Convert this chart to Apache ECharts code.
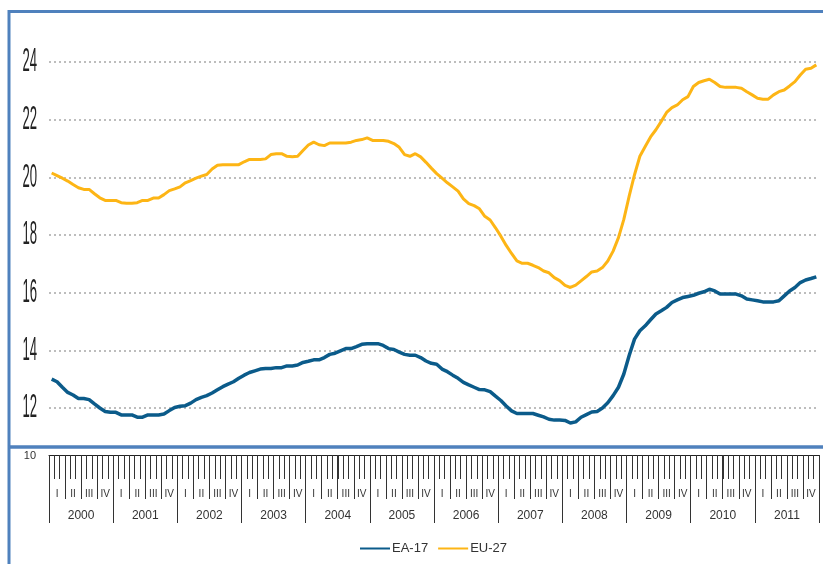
<!DOCTYPE html>
<html>
<head>
<meta charset="utf-8">
<script src="https://cdn.jsdelivr.net/npm/echarts@6/dist/echarts.min.js"></script>
<style>
  html, body { margin: 0; padding: 0; background: #fff; }
  #chart { width: 823px; height: 564px; }
</style>
</head>
<body>
<div id="chart"></div>
<script>
// data, monthly 2000-01 .. 2011-12
const years = ['2000', '2001', '2002', '2003', '2004', '2005', '2006', '2007', '2008', '2009', '2010', '2011'];
const quarters = ['I', 'II', 'III', 'IV'];
const yTicks = [12, 14, 16, 18, 20, 22, 24];

const ea17 = [
  13.00, 12.91, 12.72, 12.54, 12.45, 12.33, 12.33, 12.29, 12.14, 12.00, 11.88, 11.85,
  11.85, 11.76, 11.76, 11.76, 11.68, 11.68, 11.76, 11.76, 11.76, 11.79, 11.91, 12.02,
  12.06, 12.08, 12.17, 12.29, 12.37, 12.43, 12.52, 12.63, 12.74, 12.83, 12.91, 13.03,
  13.14, 13.23, 13.29, 13.35, 13.37, 13.37, 13.40, 13.40, 13.46, 13.46, 13.49, 13.58,
  13.62, 13.67, 13.67, 13.75, 13.86, 13.90, 13.98, 14.06, 14.06, 14.13, 14.21, 14.23,
  14.23, 14.23, 14.17, 14.06, 14.03, 13.94, 13.86, 13.83, 13.83, 13.75, 13.63, 13.55,
  13.52, 13.35, 13.26, 13.14, 13.03, 12.89, 12.80, 12.72, 12.64, 12.63, 12.57, 12.41,
  12.26, 12.07, 11.90, 11.81, 11.81, 11.81, 11.81, 11.75, 11.69, 11.61, 11.58, 11.58,
  11.57, 11.48, 11.52, 11.68, 11.77, 11.86, 11.88, 12.00, 12.18, 12.43, 12.72, 13.18,
  13.82, 14.39, 14.68, 14.85, 15.06, 15.26, 15.37, 15.49, 15.66, 15.75, 15.83, 15.87,
  15.91, 15.98, 16.03, 16.12, 16.06, 15.95, 15.95, 15.95, 15.95, 15.89, 15.78, 15.75,
  15.72, 15.68, 15.68, 15.68, 15.72, 15.89, 16.06, 16.18, 16.35, 16.44, 16.49, 16.55
];

const eu27 = [
  20.15, 20.06, 19.97, 19.87, 19.75, 19.64, 19.58, 19.58, 19.43, 19.29, 19.20, 19.20,
  19.20, 19.12, 19.10, 19.10, 19.12, 19.20, 19.20, 19.28, 19.28, 19.40, 19.54, 19.60,
  19.67, 19.81, 19.89, 19.97, 20.04, 20.10, 20.29, 20.42, 20.44, 20.44, 20.44, 20.44,
  20.54, 20.62, 20.62, 20.62, 20.64, 20.79, 20.82, 20.82, 20.73, 20.71, 20.73, 20.93,
  21.12, 21.22, 21.13, 21.10, 21.19, 21.19, 21.19, 21.19, 21.22, 21.28, 21.31, 21.37,
  21.28, 21.28, 21.28, 21.25, 21.17, 21.04, 20.79, 20.73, 20.82, 20.71, 20.52, 20.32,
  20.13, 19.97, 19.81, 19.67, 19.52, 19.25, 19.09, 19.02, 18.91, 18.65, 18.52, 18.25,
  17.96, 17.64, 17.36, 17.10, 17.02, 17.02, 16.95, 16.87, 16.75, 16.69, 16.52, 16.42,
  16.25, 16.18, 16.26, 16.41, 16.56, 16.72, 16.75, 16.87, 17.10, 17.44, 17.91, 18.54,
  19.35, 20.09, 20.73, 21.07, 21.40, 21.65, 21.94, 22.25, 22.42, 22.51, 22.69, 22.80,
  23.15, 23.29, 23.35, 23.40, 23.29, 23.15, 23.12, 23.12, 23.12, 23.09, 22.97, 22.86,
  22.74, 22.71, 22.71, 22.86, 22.97, 23.03, 23.17, 23.32, 23.55, 23.75, 23.78, 23.90
];

const months = [];
years.forEach(y => { for (let m = 1; m <= 12; m++) months.push(y + '-' + m); });
const quarterCats = [];
years.forEach(y => quarters.forEach(q => quarterCats.push(y + ' ' + q)));

const FRAME = '#4f81bd';
const frameGraphic = [
  { type: 'line', shape: { x1: 9, y1: 10, x2: 9, y2: 564 }, style: { stroke: FRAME, lineWidth: 3 }, z: 10 },
  { type: 'line', shape: { x1: 8, y1: 11.5, x2: 823, y2: 11.5 }, style: { stroke: FRAME, lineWidth: 3 }, z: 10 },
  { type: 'line', shape: { x1: 8, y1: 447, x2: 823, y2: 447 }, style: { stroke: FRAME, lineWidth: 3.5 }, z: 10 }
];

const chart = echarts.init(document.getElementById('chart'));

const tickAxis = (data, len, extra) => Object.assign({
  type: 'category', gridIndex: 1, position: 'bottom', data: data, boundaryGap: true,
  axisLine: { show: false },
  axisTick: { show: true, interval: 0, length: len, lineStyle: { color: '#333', width: 1 } },
  axisLabel: { show: false }
}, extra);

const option = {
  animation: false,
  backgroundColor: '#fff',
  grid: [
    { left: 49, right: 4, top: 4.33, bottom: 98.33 },
    { left: 49, right: 4, top: 449, height: 6 }
  ],
  xAxis: [
    { type: 'category', gridIndex: 0, data: months, boundaryGap: true, show: false },
    tickAxis(months, 24, { axisLine: { show: true, lineStyle: { color: '#222', width: 1 } } }),
    tickAxis(quarterCats, 44, {
      axisLabel: {
        show: true, interval: 0, margin: 34, fontSize: 10, color: '#333',
        fontFamily: 'Liberation Sans, Arial, sans-serif',
        formatter: v => v.split(' ')[1]
      }
    }),
    tickAxis(years, 68, {
      axisLabel: {
        show: true, interval: 0, margin: 55, fontSize: 12, color: '#333',
        fontFamily: 'Liberation Sans, Arial, sans-serif'
      }
    })
  ],
  yAxis: [
    {
      type: 'value', gridIndex: 0, min: 10, max: 26, interval: 2,
      axisLine: { show: false },
      axisTick: { show: false },
      splitLine: {
        show: true, showMinLine: false, showMaxLine: false,
        lineStyle: { color: '#bdbdbd', width: 2, type: [2, 3] }
      },
      axisLabel: {
        showMaxLabel: false, margin: 13,
        formatter: v => (v === 10 ? '{s|' + v + '}' : ''),
        rich: { s: { fontSize: 11, color: '#333', fontFamily: 'Liberation Sans, Arial, sans-serif', padding: [0, 0, 20, 0] } }
      }
    },
    { type: 'value', gridIndex: 1, show: false, min: 0, max: 1, splitLine: { show: false } }
  ],
  legend: {
    left: 355, top: 537,
    icon: 'rect', itemWidth: 30, itemHeight: 2, itemGap: 10,
    textStyle: { fontSize: 13, color: '#333', fontFamily: 'Liberation Sans, Arial, sans-serif', padding: [0, 0, 0, -3] },
    data: ['EA-17', 'EU-27']
  },
  series: [
    {
      name: 'EA-17', type: 'line', data: ea17, xAxisIndex: 0, yAxisIndex: 0,
      symbol: 'none', color: '#0b5b8a',
      lineStyle: { width: 3.5, color: '#0b5b8a' }
    },
    {
      name: 'EU-27', type: 'line', data: eu27, xAxisIndex: 0, yAxisIndex: 0,
      symbol: 'none', color: '#fdb515',
      lineStyle: { width: 3, color: '#fdb515' }
    }
  ],
  graphic: frameGraphic
};

chart.setOption(option);

// tall narrow y-axis labels, placed through the axis scale
const labelGraphic = yTicks.map(v => ({
  type: 'text',
  x: 37,
  y: chart.convertToPixel({ yAxisIndex: 0 }, v),
  scaleX: 0.82,
  scaleY: 2.1,
  style: {
    text: String(v),
    font: '16px "Liberation Sans", Arial, sans-serif',
    fill: '#222',
    textAlign: 'right',
    textVerticalAlign: 'middle'
  }
}));
chart.setOption({ graphic: frameGraphic.concat(labelGraphic) });
</script>
</body>
</html>
